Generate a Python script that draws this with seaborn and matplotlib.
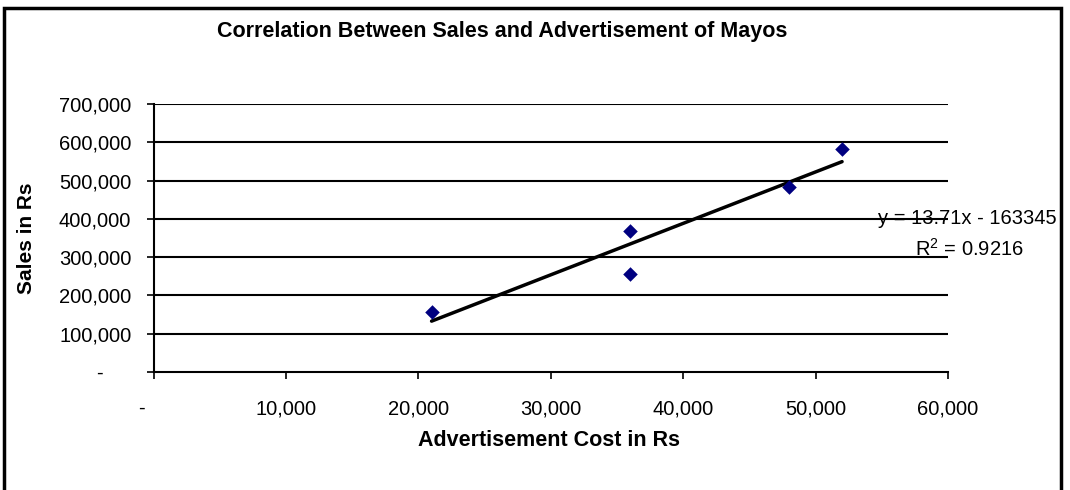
import matplotlib
matplotlib.use("Agg")
import matplotlib.pyplot as plt
import seaborn as sns
import pandas as pd
from matplotlib.patches import Rectangle
from matplotlib.ticker import FuncFormatter, MultipleLocator

# data
ad_cost = [21000, 36000, 36000, 48000, 52000]
sales = [157000, 369000, 255000, 484000, 582000]
eq_text = "y = 13.71x - 163345"
r2_text = r"R$^2$ = 0.9216"

df = pd.DataFrame({"Advertisement": ad_cost, "Sales": sales})

sns.set_theme(style="white")
plt.rcParams["font.family"] = ["Liberation Sans", "DejaVu Sans"]
plt.rcParams["mathtext.fontset"] = "custom"
plt.rcParams["mathtext.rm"] = "Liberation Sans"
plt.rcParams["text.color"] = "black"
plt.rcParams["xtick.color"] = "black"
plt.rcParams["ytick.color"] = "black"

W, H = 1070, 490
fig = plt.figure(figsize=(W / 100, H / 100), dpi=100)
ax = fig.add_axes([153.5 / W, 1 - 371.7 / H, (948 - 153.5) / W, (371.7 - 104.3) / H])

sns.regplot(data=df, x="Advertisement", y="Sales", ax=ax, ci=None, marker="D",
            scatter_kws={"s": 55, "color": "#000080", "alpha": 1, "linewidths": 0,
                         "zorder": 4},
            line_kws={"color": "black", "lw": 2.5, "zorder": 3})

ax.set_xlim(0, 60000)
ax.set_ylim(0, 700000)
ax.xaxis.set_major_locator(MultipleLocator(10000))
ax.yaxis.set_major_locator(MultipleLocator(100000))
ax.xaxis.set_major_formatter(FuncFormatter(lambda v, p: f"{v:,.0f}" if v else "-    "))
ax.yaxis.set_major_formatter(FuncFormatter(lambda v, p: f"{v:,.0f}" if v else "-     "))

ax.grid(False)
for v in range(100000, 700001, 100000):
    ax.axhline(v, color="black", lw=1.5, zorder=1)

for s in ["top", "right"]:
    ax.spines[s].set_visible(False)
for s in ["left", "bottom"]:
    ax.spines[s].set_color("black")
    ax.spines[s].set_linewidth(1.5)

ax.tick_params(axis="x", direction="out", length=5, width=1.2, color="black",
               labelsize=14.5, labelcolor="black", pad=15, bottom=True)
ax.tick_params(axis="y", direction="out", length=5, width=1.2, color="black",
               labelsize=14.5, labelcolor="black", pad=11, left=True)

ax.set_xlabel("")
ax.set_ylabel("")
fig.text(549 / W, 1 - 440 / H, "Advertisement Cost in Rs", ha="center", va="center",
         fontsize=15.5, fontweight="bold", color="black")
fig.text(27 / W, 1 - 238 / H, "Sales in Rs", ha="center", va="center",
         rotation=90, fontsize=15, fontweight="bold", color="black")
fig.text(502 / W, 1 - 32 / H, "Correlation Between Sales and Advertisement of Mayos",
         ha="center", va="center", fontsize=15.5, fontweight="bold", color="black")

fig.text(967 / W, 1 - 218 / H, eq_text, ha="center", va="center", fontsize=14.5)
fig.text(969 / W, 1 - 249 / H, r2_text, ha="center", va="center", fontsize=14.5)

# outer chart frame (cut off at the bottom)
fig.patches.append(Rectangle((4 / W, -0.05), (1061 - 4) / W, 1.05 - 8 / H,
                             transform=fig.transFigure, fill=False,
                             edgecolor="black", lw=2.5))

fig.savefig("out.png", dpi=100)
